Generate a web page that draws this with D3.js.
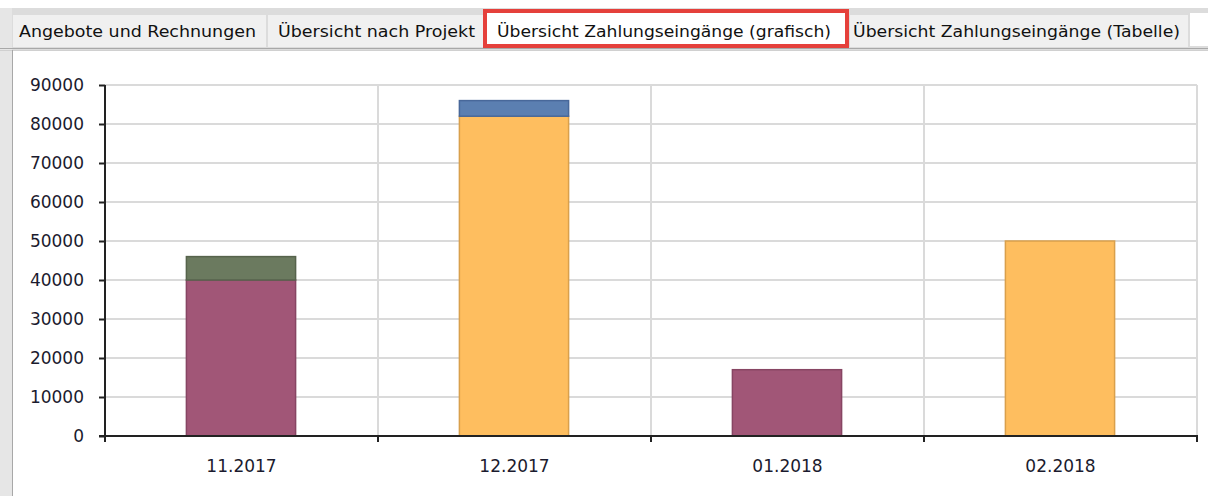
<!DOCTYPE html>
<html><head><meta charset="utf-8">
<script src="https://cdn.jsdelivr.net/npm/d3@7"></script>
<style>html,body{margin:0;padding:0;background:#fff;overflow:hidden}svg{display:block}</style>
</head><body>
<svg id="c" width="1208" height="496"></svg>
<script>
const categories = ["11.2017","12.2017","01.2018","02.2018"];
const seriesNames = ["A","B","C","D"];
const seriesA = [40000, 0, 17000, 0];      // maroon
const seriesB = [0, 82000, 0, 50000];      // orange
const seriesC = [6000, 0, 0, 0];           // green
const seriesD = [0, 4000, 0, 0];           // blue
const yTicks = [0,10000,20000,30000,40000,50000,60000,70000,80000,90000];
const tabLabels = ["Angebote und Rechnungen","Übersicht nach Projekt","Übersicht Zahlungseingänge (grafisch)","Übersicht Zahlungseingänge (Tabelle)"];

(function(){
const fills = {A:"#a15677", B:"#febe5f", C:"#6b7a5f", D:"#5b7fb1"};
const strokes = {A:"#874563", B:"#d9a04c", C:"#56634c", D:"#48689a"};

const svg = d3.select("#c");
const font = "'DejaVu Sans', Verdana, sans-serif";

// window chrome
svg.append("rect").attr("x",0).attr("y",8).attr("width",1208).attr("height",42).attr("fill","#dcdcdc");
svg.append("rect").attr("x",0).attr("y",8).attr("width",12).attr("height",488).attr("fill","#e6e6e6");
svg.append("rect").attr("x",1190).attr("y",13).attr("width",18).attr("height",33).attr("fill","#fff");

// tabs
const tabs = [
  {x0:13, x1:266, tx:19, tw:237},
  {x0:268, x1:484, tx:278, tw:197},
  {x0:486, x1:848, tx:497, tw:334, sel:true},
  {x0:850, x1:1188, tx:853, tw:327}
];
tabs.forEach((t,i)=>{
  svg.append("rect").attr("x",t.x0).attr("y",t.sel?11:15).attr("width",t.x1-t.x0).attr("height",t.sel?37:32)
    .attr("fill",t.sel?"#ffffff":"#f0f0f0");
  svg.append("text").attr("x",t.tx).attr("y",37).attr("font-family",font).attr("font-size",16)
    .attr("fill","#111").attr("textLength",t.tw).attr("lengthAdjust","spacingAndGlyphs").text(tabLabels[i]);
  if(t.sel){
    svg.append("rect").attr("x",485).attr("y",11).attr("width",362).attr("height",35)
      .attr("fill","none").attr("stroke","#e5403b").attr("stroke-width",4);
  }
});

// panel
svg.append("rect").attr("x",12).attr("y",50).attr("width",1196).attr("height",446).attr("fill","#fff");
svg.append("line").attr("x1",0).attr("x2",1208).attr("y1",48.5).attr("y2",48.5).attr("stroke","#a8a8a8");
svg.append("line").attr("x1",0).attr("x2",1208).attr("y1",50.5).attr("y2",50.5).attr("stroke","#d0d0d0");
svg.append("line").attr("x1",12.5).attr("x2",12.5).attr("y1",50).attr("y2",496).attr("stroke","#a8a8a8");

// chart
const pl = 105, pr = 1197, pt = 85, pb = 436;
const x = d3.scaleBand().domain(categories).range([pl,pr]).paddingInner(0).paddingOuter(0);
const y = d3.scaleLinear().domain([0,90000]).range([pb, pt]);

const g = svg.append("g");
g.selectAll(".hg").data(yTicks.slice(1)).join("line")
  .attr("x1",pl).attr("x2",pr).attr("y1",d=>y(d)).attr("y2",d=>y(d))
  .attr("stroke","#dadada").attr("stroke-width",2);
const bounds = categories.map(c=>x(c)+x.bandwidth());
g.selectAll(".vg").data(bounds).join("line")
  .attr("x1",d=>d).attr("x2",d=>d).attr("y1",pt).attr("y2",pb)
  .attr("stroke","#dadada").attr("stroke-width",2);

const rows = categories.map((c,i)=>({cat:c, A:seriesA[i], B:seriesB[i], C:seriesC[i], D:seriesD[i]}));
const stack = d3.stack().keys(seriesNames)(rows);
const bw = x.bandwidth()*0.4;
stack.forEach(s=>{
  g.selectAll(null).data(s.filter(d=>d[1]-d[0]>0)).join("rect")
    .attr("x",d=>x(d.data.cat)+(x.bandwidth()-bw)/2 - 0.5)
    .attr("y",d=>y(d[1]))
    .attr("width",bw)
    .attr("height",d=>y(d[0])-y(d[1]))
    .attr("fill",fills[s.key]).attr("stroke",strokes[s.key]).attr("stroke-width",1.5);
});

const yAxis = d3.axisLeft(y).tickValues(yTicks).tickSize(6).tickPadding(15).tickFormat(d3.format("d"));
const ya = svg.append("g").attr("transform",`translate(${pl},0)`).call(yAxis);
ya.select(".domain").remove();
ya.selectAll(".tick line").attr("stroke","#222").attr("stroke-width",2);
ya.selectAll("text").attr("font-family",font).attr("font-size",17).attr("fill","#1b1b2e");
svg.append("line").attr("x1",pl).attr("x2",pl).attr("y1",pt).attr("y2",pb+6).attr("stroke","#222").attr("stroke-width",2);

svg.append("line").attr("x1",pl-6).attr("x2",pr+1).attr("y1",pb).attr("y2",pb).attr("stroke","#222").attr("stroke-width",2);
svg.selectAll(".xt").data(bounds).join("line")
  .attr("x1",d=>d).attr("x2",d=>d).attr("y1",pb).attr("y2",pb+6).attr("stroke","#222").attr("stroke-width",2);
const xAxis = d3.axisBottom(x).tickSize(0).tickPadding(24);
const xa = svg.append("g").attr("transform",`translate(0,${pb})`).call(xAxis);
xa.select(".domain").remove();
xa.selectAll("text").attr("font-family",font).attr("font-size",17).attr("fill","#1b1b2e");
})();
</script>
</body></html>
